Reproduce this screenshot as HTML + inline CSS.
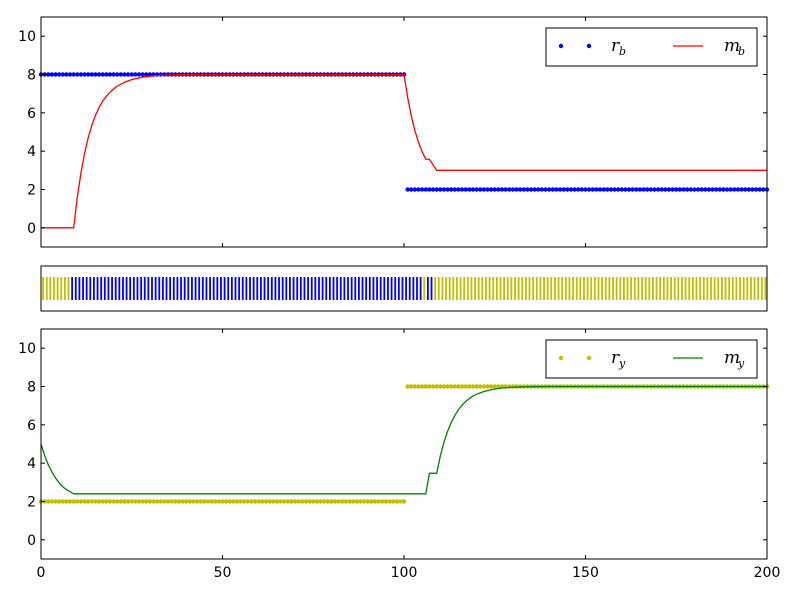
<!DOCTYPE html>
<html><head><meta charset="utf-8"><style>
body{margin:0;background:#fff;width:800px;height:600px;overflow:hidden}
svg text{font-family:"DejaVu Sans","Liberation Sans",sans-serif;font-size:14px;fill:#000}
.m{font-family:"DejaVu Serif","Liberation Serif",serif;font-style:italic;font-size:17px}
.s{font-family:"DejaVu Serif","Liberation Serif",serif;font-style:italic;font-size:11px}
</style></head><body>
<svg id="c" width="800" height="600"></svg>
<script>
const mbT=[0,9,10,11,12,13,14,15,16,17,18,19,20,21,22,23,24,25,26,28,30,33,36,40,100,101,102,103,104,105,106,107,109,200];
const mbV=[0,0,1.59,2.86,3.88,4.70,5.34,5.87,6.28,6.61,6.87,7.07,7.25,7.40,7.49,7.59,7.67,7.73,7.78,7.86,7.91,7.96,7.98,8,8,6.81,5.85,5.07,4.46,3.97,3.58,3.58,3.0,3.0];
const myT=[0,1,2,3,4,5,6,7,8,9,106,107,109,110,111,112,113,114,115,116,117,118,119,120,122,124,127,130,135,140,200];
const myV=[5,4.4,3.92,3.54,3.23,2.97,2.77,2.62,2.51,2.4,2.4,3.47,3.47,4.37,5.09,5.66,6.12,6.49,6.79,7.03,7.22,7.37,7.5,7.6,7.74,7.83,7.92,7.96,7.99,8,8];
const rbLevels=[8,2];const ryLevels=[2,8];const switchT=100;
const barColors=[];// 'y' or 'b' per t
for(let t=0;t<200;t++){barColors.push((t>=8&&t<=104)||(t>=106&&t<=107)?'b':'y');}
const yTicks=[0,2,4,6,8,10];const xTicks=[0,50,100,150,200];
const NS='http://www.w3.org/2000/svg';const svg=document.getElementById('c');
function el(tag,a,p){const e=document.createElementNS(NS,tag);for(const k in a)e.setAttribute(k,a[k]);(p||svg).appendChild(e);return e;}
const X=t=>41+t*3.63;
function panel(top,bot,name,rLevels,col,mT,mV,lcol,sub){
  const Y=v=>bot-(v+1)*(bot-top)/12;
  const g=el('g',{});
  for(let t=0;t<=200;t++){const v=t<=switchT?rLevels[0]:rLevels[1];
    const d=el('circle',{cx:X(t),cy:Y(v),r:2.2,fill:col},g);
    }
  if(true){const d=el('circle',{cx:X(switchT),cy:Y(rLevels[0]),r:2.2,fill:col},g);}
  const l=el('polyline',{points:mT.map((t,i)=>X(t)+','+Y(mV[i])).join(' '),fill:'none',stroke:lcol,'stroke-width':1.3},g);
  
  const f=el('rect',{x:41,y:top,width:726,height:bot-top,fill:'none',stroke:'#000','stroke-width':1},g);
  
  yTicks.forEach(v=>{el('line',{x1:41,x2:45,y1:Y(v),y2:Y(v),stroke:'#000'},g);el('line',{x1:763,x2:767,y1:Y(v),y2:Y(v),stroke:'#000'},g);
    const tx=el('text',{x:36,y:Y(v)+5,'text-anchor':'end'},g);tx.textContent=v;
    });
  xTicks.forEach(t=>{el('line',{x1:X(t),x2:X(t),y1:bot,y2:bot-4,stroke:'#000'},g);el('line',{x1:X(t),x2:X(t),y1:top,y2:top+4,stroke:'#000'},g);});
  const ly=top+11;const lg=el('g',{},g);
  el('rect',{x:546,y:ly,width:211,height:38,fill:'#fff',stroke:'#000'},lg);
  el('circle',{cx:561,cy:ly+18,r:2.2,fill:col},lg);el('circle',{cx:589,cy:ly+18,r:2.2,fill:col},lg);
  let t1=el('text',{x:611,y:ly+23,class:'m'},lg);t1.textContent='r';
  let s1=el('text',{x:619,y:ly+27,class:'s'},lg);s1.textContent=sub;
  el('line',{x1:673,x2:703,y1:ly+18,y2:ly+18,stroke:lcol,'stroke-width':1.3},lg);
  let t2=el('text',{x:724,y:ly+23,class:'m'},lg);t2.textContent='m';
  let s2=el('text',{x:738,y:ly+27,class:'s'},lg);s2.textContent=sub;
  return Y;
}
panel(17,247,'top-panel',rbLevels,'#0000ff',mbT,mbV,'#ff0000','b');
panel(329,559,'bottom-panel',ryLevels,'#bfbf00',myT,myV,'#008000','y');
const mg=el('g',{});
barColors.forEach((c,t)=>{const b=el('rect',{x:X(t)+1.2,y:277,width:1.8,height:23,fill:c==='b'?'#0000ff':'#bfbf00'},mg);
  });
el('rect',{x:41,y:266,width:726,height:45,fill:'none',stroke:'#000'},mg);
xTicks.forEach(t=>{const tx=el('text',{x:X(t),y:577,'text-anchor':'middle'});tx.textContent=t;
  });
</script>
</body></html>
